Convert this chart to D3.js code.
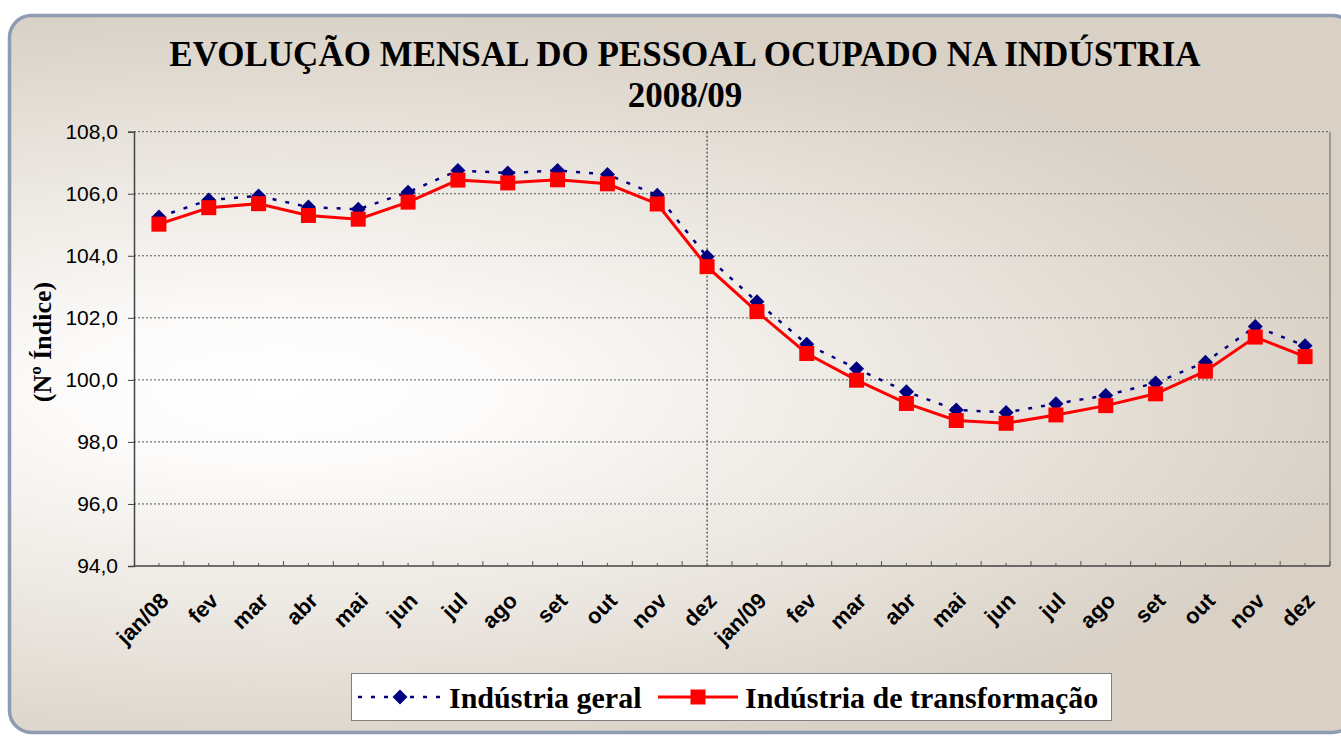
<!DOCTYPE html>
<html>
<head>
<meta charset="utf-8">
<script src="https://cdn.jsdelivr.net/npm/d3@7"></script>
<style>
	body { margin: 0; background: #ffffff; }
	svg { display: block; }
</style>
</head>
<body>
<div id="chart"></div>
<script>

var month_labels = ['jan/08', 'fev', 'mar', 'abr', 'mai', 'jun', 'jul', 'ago', 'set', 'out', 'nov', 'dez',
	'jan/09', 'fev', 'mar', 'abr', 'mai', 'jun', 'jul', 'ago', 'set', 'out', 'nov', 'dez']

var industria_geral = [105.25, 105.8, 105.93, 105.57, 105.5, 106.05, 106.75, 106.67, 106.75, 106.62, 105.95, 103.97,
	102.52, 101.15, 100.36, 99.62, 99.03, 98.95, 99.23, 99.5, 99.9, 100.57, 101.72, 101.1]

var industria_transf = [105.02, 105.55, 105.68, 105.3, 105.18, 105.73, 106.44, 106.35, 106.45, 106.32, 105.67, 103.65,
	102.2, 100.85, 99.99, 99.24, 98.69, 98.6, 98.87, 99.17, 99.55, 100.28, 101.38, 100.75]

var y_ticks = [94, 96, 98, 100, 102, 104, 106, 108]

var series_names = ['Indústria geral', 'Indústria de transformação']

var Chart = ((d3) => {

	var width = 1341,
		height = 736,
		left = 134,
		right = 1330,
		top = 131.7,
		bottom = 566

	var svg = d3.select('#chart')
		.append('svg')
		.attr('width', width)
		.attr('height', height)

	var defs = svg.append('defs')

	var grad = defs.append('radialGradient')
		.attr('id', 'bg')
		.attr('gradientUnits', 'userSpaceOnUse')
		.attr('cx', 0).attr('cy', 0).attr('r', 1)
		.attr('gradientTransform', 'translate(280,392) scale(1100,385)')

	grad.selectAll('stop')
		.data([[0, '#ffffff'], [0.2, '#fcfbfa'], [0.55, '#ede9e3'], [1, '#d9d1c6']])
		.join('stop')
			.attr('offset', d => d[0])
			.attr('stop-color', d => d[1])

	// panel
	svg.append('rect')
		.attr('x', 9.5)
		.attr('y', 15.5)
		.attr('width', 1345)
		.attr('height', 717)
		.attr('rx', 22)
		.attr('fill', 'url(#bg)')
		.attr('stroke', '#8d9bb3')
		.attr('stroke-width', 3.5)

	// title
	var title = svg.append('g')
		.attr('font-family', '"Liberation Serif", "Times New Roman", serif')
		.attr('font-weight', 'bold')
		.attr('font-size', 35)
		.attr('text-anchor', 'middle')
		.attr('fill', '#000')

	title.append('text')
		.attr('x', 685)
		.attr('y', 66)
		.text('EVOLUÇÃO MENSAL DO PESSOAL OCUPADO NA INDÚSTRIA')

	title.append('text')
		.attr('x', 685)
		.attr('y', 107)
		.text('2008/09')

	var x = d3.scaleBand()
		.domain(d3.range(month_labels.length))
		.range([left, right])
		.padding(0)

	var bw = x.bandwidth()
	var cx = i => x(i) + bw / 2

	var y = d3.scaleLinear()
		.domain([94, 108])
		.range([bottom, top])

	// gridlines
	svg.append('g')
		.selectAll('line')
		.data(y_ticks.slice(1))
		.join('line')
			.attr('x1', left)
			.attr('x2', right)
			.attr('y1', d => y(d))
			.attr('y2', d => y(d))
			.attr('stroke', '#555')
			.attr('stroke-width', 1)
			.attr('stroke-dasharray', '2,2')

	// vertical divider at dez/08
	svg.append('line')
		.attr('x1', cx(11))
		.attr('x2', cx(11))
		.attr('y1', top)
		.attr('y2', bottom)
		.attr('stroke', '#222')
		.attr('stroke-width', 1)
		.attr('stroke-dasharray', '2,2')

	// right border of plot
	svg.append('line')
		.attr('x1', right)
		.attr('x2', right)
		.attr('y1', top)
		.attr('y2', bottom)
		.attr('stroke', '#8a8680')
		.attr('stroke-width', 1.5)

	// y axis
	var y_axis = svg.append('g')
		.attr('transform', 'translate(' + left + ',0)')
		.call(d3.axisLeft(y)
			.tickValues(y_ticks)
			.tickSize(6)
			.tickPadding(10)
			.tickFormat(d => d.toFixed(1).replace('.', ',')))

	y_axis.select('.domain')
		.attr('stroke', '#444')
		.attr('stroke-width', 1.5)

	y_axis.selectAll('.tick line')
		.attr('stroke', '#444')

	y_axis.selectAll('.tick text')
		.attr('font-family', '"Liberation Sans", Arial, sans-serif')
		.attr('font-size', 21)
		.attr('fill', '#000')

	// x axis
	svg.append('line')
		.attr('x1', left)
		.attr('x2', right)
		.attr('y1', bottom)
		.attr('y2', bottom)
		.attr('stroke', '#444')
		.attr('stroke-width', 1.5)

	var tick_pos = []
	d3.range(month_labels.length).forEach(i => {
		tick_pos.push({x: cx(i), len: 3})
		tick_pos.push({x: x(i) + bw, len: 5})
	})

	svg.append('g')
		.selectAll('line')
		.data(tick_pos)
		.join('line')
			.attr('x1', d => d.x)
			.attr('x2', d => d.x)
			.attr('y1', bottom)
			.attr('y2', d => bottom - d.len)
			.attr('stroke', '#555')
			.attr('stroke-width', 1)

	svg.append('g')
		.selectAll('text')
		.data(month_labels)
		.join('text')
			.attr('transform', (d, i) => 'translate(' + (cx(i) + 11) + ',602) rotate(-45)')
			.attr('text-anchor', 'end')
			.attr('font-family', '"Liberation Sans", Arial, sans-serif')
			.attr('font-weight', 'bold')
			.attr('font-size', 22)
			.attr('fill', '#000')
			.text(d => d)

	// y axis title
	svg.append('text')
		.attr('transform', 'translate(51,342) rotate(-90)')
		.attr('text-anchor', 'middle')
		.attr('font-family', '"Liberation Serif", "Times New Roman", serif')
		.attr('font-weight', 'bold')
		.attr('font-size', 26)
		.attr('fill', '#000')
		.text('(Nº Índice)')

	var line = d3.line()
		.x((d, i) => cx(i))
		.y(d => y(d))

	var diamond = 'M0,-7.5L7.5,0L0,7.5L-7.5,0Z'

	// Indústria geral
	svg.append('path')
		.datum(industria_geral)
		.attr('fill', 'none')
		.attr('stroke', '#000080')
		.attr('stroke-width', 2.5)
		.attr('stroke-dasharray', '4,9')
		.attr('d', line)

	svg.append('g')
		.selectAll('path')
		.data(industria_geral)
		.join('path')
			.attr('transform', (d, i) => 'translate(' + cx(i) + ',' + y(d) + ')')
			.attr('d', diamond)
			.attr('fill', '#000080')

	// Indústria de transformação
	svg.append('path')
		.datum(industria_transf)
		.attr('fill', 'none')
		.attr('stroke', '#ff0000')
		.attr('stroke-width', 3)
		.attr('d', line)

	svg.append('g')
		.selectAll('rect')
		.data(industria_transf)
		.join('rect')
			.attr('x', (d, i) => cx(i) - 7.5)
			.attr('y', d => y(d) - 7.5)
			.attr('width', 15)
			.attr('height', 15)
			.attr('fill', '#ff0000')

	// legend
	var legend = svg.append('g')

	legend.append('rect')
		.attr('x', 351.5)
		.attr('y', 673.5)
		.attr('width', 760)
		.attr('height', 47)
		.attr('fill', '#ffffff')
		.attr('stroke', '#808080')
		.attr('stroke-width', 1)

	legend.append('line')
		.attr('x1', 358)
		.attr('x2', 442)
		.attr('y1', 697)
		.attr('y2', 697)
		.attr('stroke', '#000080')
		.attr('stroke-width', 2.5)
		.attr('stroke-dasharray', '4,9')

	legend.append('path')
		.attr('transform', 'translate(400,697)')
		.attr('d', diamond)
		.attr('fill', '#000080')

	legend.append('line')
		.attr('x1', 658)
		.attr('x2', 738)
		.attr('y1', 697)
		.attr('y2', 697)
		.attr('stroke', '#ff0000')
		.attr('stroke-width', 3)

	legend.append('rect')
		.attr('x', 690.5)
		.attr('y', 689.5)
		.attr('width', 15)
		.attr('height', 15)
		.attr('fill', '#ff0000')

	legend.selectAll('text')
		.data(series_names)
		.join('text')
			.attr('x', (d, i) => i == 0 ? 449 : 745)
			.attr('y', 708)
			.attr('font-family', '"Liberation Serif", "Times New Roman", serif')
			.attr('font-weight', 'bold')
			.attr('font-size', 30)
			.attr('fill', '#000')
			.text(d => d)

	return { svg : svg }

})(d3)

</script>
</body>
</html>
